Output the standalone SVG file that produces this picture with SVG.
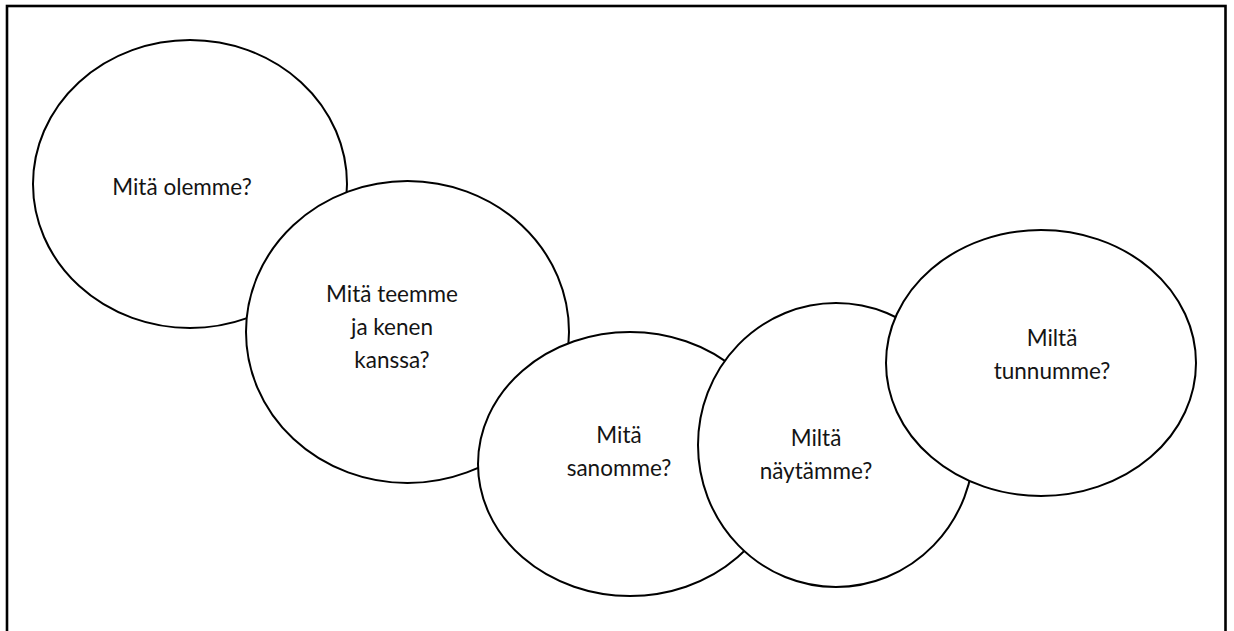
<svg xmlns="http://www.w3.org/2000/svg" width="1234" height="631" viewBox="0 0 1234 631">
  <style>
    .bubble { fill: #ffffff; stroke: #000000; stroke-width: 2; }
    .label { font-family: Lato, "Liberation Sans", sans-serif; font-size: 22.5px; fill: #141414; text-anchor: middle; }
  </style>
  <rect x="0" y="0" width="1234" height="631" fill="#ffffff"/>
  <rect x="7" y="6" width="1218.5" height="700" fill="none" stroke="#000000" stroke-width="2.6"/>
  <g id="connectors"></g>
  <g id="node-olemme">
    <ellipse class="bubble" cx="190" cy="184" rx="157" ry="144"/>
    <text class="label" x="182" y="195">Mitä olemme?</text>
  </g>
  <g id="node-teemme">
    <ellipse class="bubble" cx="407.5" cy="332" rx="161.5" ry="151"/>
    <text class="label" x="392" y="302">Mitä teemme</text>
    <text class="label" x="392" y="335">ja kenen</text>
    <text class="label" x="392" y="368">kanssa?</text>
  </g>
  <g id="node-sanomme">
    <ellipse class="bubble" cx="630" cy="464" rx="152" ry="132"/>
    <text class="label" x="619" y="443">Mitä</text>
    <text class="label" x="619" y="476">sanomme?</text>
  </g>
  <g id="node-naytamme">
    <ellipse class="bubble" cx="836" cy="445" rx="138" ry="142"/>
    <text class="label" x="816" y="446">Miltä</text>
    <text class="label" x="816" y="479">näytämme?</text>
  </g>
  <g id="node-tunnumme">
    <ellipse class="bubble" cx="1041" cy="363" rx="155" ry="133"/>
    <text class="label" x="1052" y="346">Miltä</text>
    <text class="label" x="1052" y="379">tunnumme?</text>
  </g>
</svg>
